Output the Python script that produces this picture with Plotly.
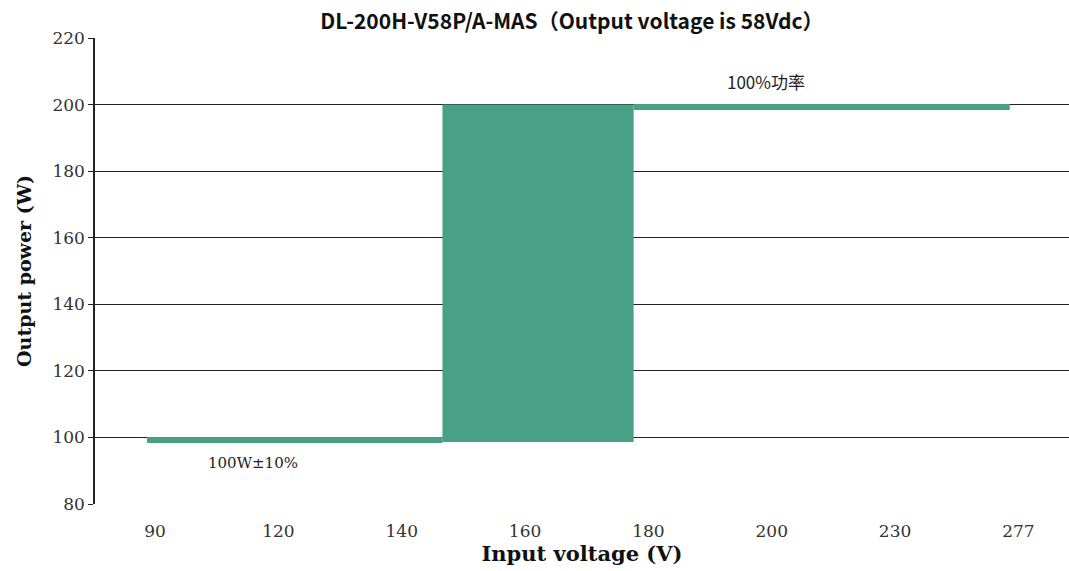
import plotly.graph_objects as go

# category labels of the input voltage axis (equally spaced)
x_labels = ["90", "120", "140", "160", "180", "200", "230", "277"]
y_ticks = [80, 100, 120, 140, 160, 180, 200, 220]

# positions in category-index units
low_x = [-0.065, 2.33]
low_y = [99.2, 99.2]
box_x = [2.33, 3.88]
box_y_bottom = 98.6
box_y_top = 200
high_x = [3.88, 6.93]
high_y = [199.3, 199.3]

green = "#48a085"
serif = "DejaVu Serif, Liberation Serif"

fig = go.Figure()
fig.add_trace(go.Scatter(
    x=[box_x[0], box_x[0], box_x[1], box_x[1], box_x[0]],
    y=[box_y_bottom, box_y_top, box_y_top, box_y_bottom, box_y_bottom],
    fill="toself", fillcolor=green, mode="lines",
    line=dict(color=green, width=0), hoverinfo="skip", showlegend=False))
fig.add_trace(go.Scatter(x=low_x, y=low_y, mode="lines",
                         line=dict(color=green, width=6), showlegend=False))
fig.add_trace(go.Scatter(x=high_x, y=high_y, mode="lines",
                         line=dict(color=green, width=6), showlegend=False))

fig.add_annotation(x=0.79, y=92.4, text="100W±10%", showarrow=False,
                   font=dict(family=serif, size=15, color="#222"))
fig.add_annotation(x=4.95, y=206.8, text="100%功率", showarrow=False,
                   font=dict(family="Noto Sans CJK SC", size=17, color="#222"))

fig.update_layout(
    width=1069, height=571,
    margin=dict(l=95, r=0, t=38, b=67, autoexpand=False),
    paper_bgcolor="white", plot_bgcolor="white",
    title=dict(text="DL-200H-V58P/A-MAS（Output voltage is 58Vdc）",
               x=0.535, xanchor="center", y=0.962, yanchor="middle",
               font=dict(family="Noto Sans CJK SC", size=21, color="#111", weight="bold")),
    xaxis=dict(range=[-0.487, 7.41], tickvals=list(range(len(x_labels))), ticktext=x_labels,
               showgrid=False, zeroline=False, showline=False, ticks="", automargin=False,
               ticklabelstandoff=15,
               tickfont=dict(family=serif, size=17, color="#333"),
               title=dict(text="Input voltage (V)", standoff=6,
                          font=dict(family=serif, size=21, color="#111", weight="bold"))),
    yaxis=dict(range=[80, 220], tickvals=y_ticks, showgrid=True, gridcolor="#222", gridwidth=1,
               zeroline=False, showline=True, linecolor="#222", linewidth=1.5, automargin=False,
               ticks="outside", ticklen=5, tickcolor="#222",
               tickfont=dict(family=serif, size=17, color="#333"),
               title=dict(text="Output power (W)", standoff=16,
                          font=dict(family=serif, size=19, color="#111", weight="bold"))),
)

fig.write_html("out.html", config={"displayModeBar": False},
               post_script="document.body.style.margin='0';document.body.style.overflow='hidden';")
